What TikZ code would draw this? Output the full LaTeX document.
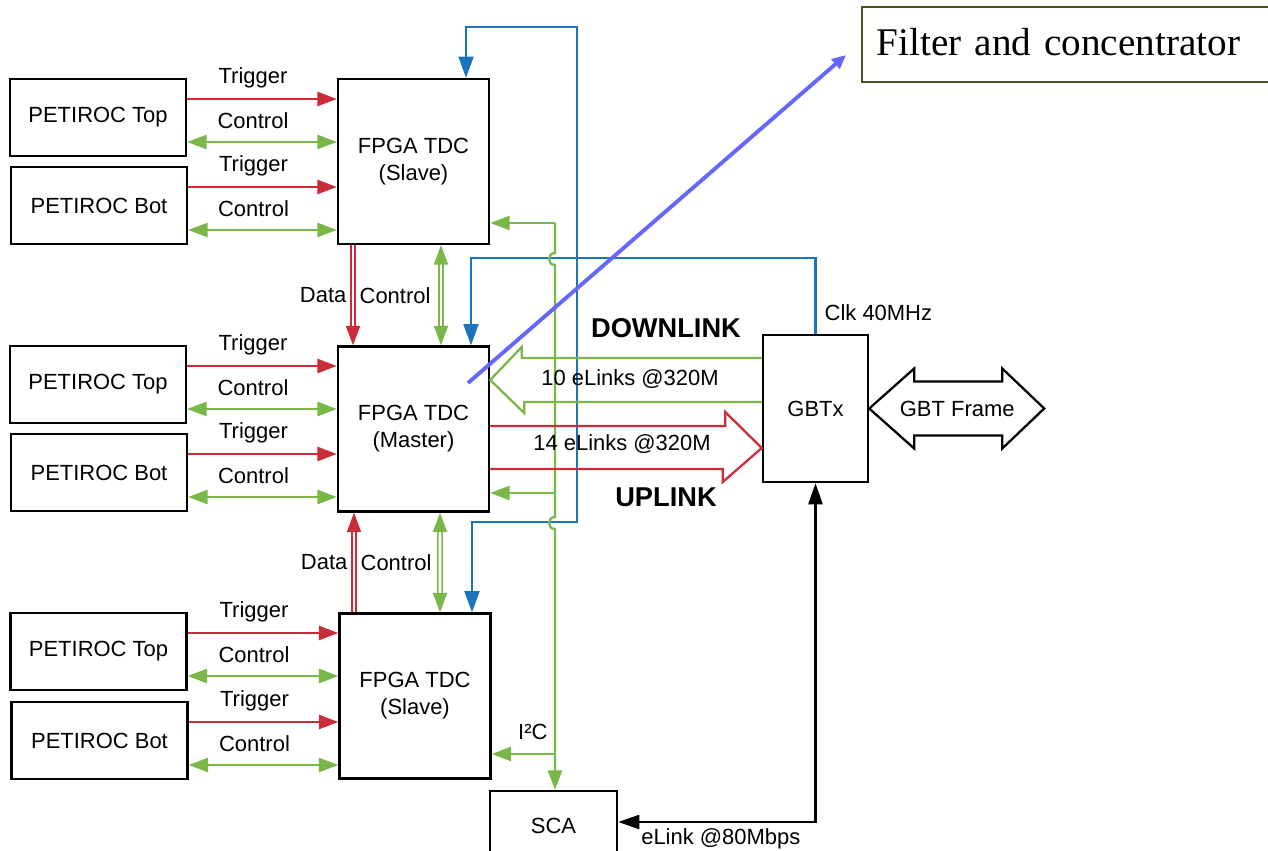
\documentclass[tikz,border=0pt]{standalone}
\usepackage{fontspec}
\setmainfont{Liberation Sans}
\newfontfamily\filterfont{Liberation Serif}
\usetikzlibrary{arrows.meta,calc}

\definecolor{trigred}{HTML}{C92D39}
\definecolor{ctrlgreen}{HTML}{7AB648}
\definecolor{clkblue}{HTML}{1C75BC}
\definecolor{notepurple}{HTML}{6666FF}
\definecolor{noteolive}{HTML}{4A5320}

\tikzset{
  petiroc/.style={minimum width=3.52cm, minimum height=1.54cm},
  fpga/.style={minimum width=3.02cm, minimum height=3.3cm},
  trig/.style={draw=trigred, line width=1.3pt},
  ctrl/.style={draw=ctrlgreen, line width=1.3pt},
  data/.style={draw=trigred, double=white, double distance=1.5pt, line width=0.9pt},
  ctrlbus/.style={draw=ctrlgreen, double=white, double distance=1.5pt, line width=0.9pt},
  clk/.style={draw=clkblue, line width=1.2pt, >={Triangle[length=12pt,width=8.5pt]}},
  elink/.style={draw=black, line width=1.3pt, >={Triangle[length=12pt,width=8pt]}},
  wide/.style={draw=black, line width=1.3pt, line join=miter},
  note/.style={draw=notepurple, line width=2.2pt, >={Triangle[length=8pt,width=7pt]}},
  linkname/.style={font=\bfseries\fontsize{15.5}{18}\selectfont},
  wirename/.style={midway, xshift=-0.18cm, yshift=0.42cm}
}

\begin{document}
\begin{tikzpicture}[x=0.02cm, y=-0.02cm, font=\fontsize{12.5}{15.3}\selectfont,
    >={Triangle[length=11pt,width=8pt]}]
  \useasboundingbox (0,0) rectangle (1268,851);

  \begin{scope}[every node/.style={draw, line width=1.4pt, align=center, inner sep=0pt}]
    \node [petiroc] (ta) at (98,117.5) {PETIROC Top};
    \node [petiroc] (ba) at (99,205.5) {PETIROC Bot};
    \node [petiroc] (tb) at (98,384.5) {PETIROC Top};
    \node [petiroc] (bb) at (99,472.5) {PETIROC Bot};
    \node [petiroc] (tc) at (98.5,651.5) {PETIROC Top};
    \node [petiroc] (bc) at (99.5,740.5) {PETIROC Bot};
    \node [fpga] (fs) at (413.5,161.5) {FPGA TDC\\(Slave)};
    \node [fpga] (fm) at (413.5,429) {FPGA TDC\\(Master)};
    \node [fpga] (fl) at (415,696) {FPGA TDC\\(Slave)};
    \node [minimum width=2.1cm, minimum height=2.94cm] (gbtx) at (815.5,408.5) {GBTx};
    \node [minimum width=2.54cm, minimum height=1.4cm] (sca) at (553.5,826) {SCA};
  \end{scope}

  \node [draw=noteolive, line width=0.9pt, anchor=west, minimum height=1.5cm,
    text width=7.98cm, inner xsep=0.3cm, align=left,
    font=\filterfont\fontsize{22.3}{26}\selectfont] (flt) at (861,44.5) {\raisebox{3pt}{Filter and concentrator}};

  % trigger and control to the FPGAs
  \foreach \p/\f in {ta/fs, ba/fs, tb/fm, bb/fm, tc/fl, bc/fl} {
    \coordinate (\p-t) at ($(\p.east)+(0,-18.5)$);
    \coordinate (\p-c) at ($(\p.east)+(0,24.5)$);
    \path (\p-t) edge [trig,->] node [wirename] {Trigger} (\p-t -| \f.west);
    \path (\p-c) edge [ctrl,<->] node [wirename] {Control} (\p-c -| \f.west);
  }

  % data and control between the FPGAs
  \draw [data,->] ($(fs.south)+(-60.5,0)$) -- ($(fm.north)+(-60.5,0)$)
    node [midway,left] (d1) {Data} node [midway,right] (c1) {Control};
  \draw [ctrlbus,<->] ($(fs.south)+(27.5,0)$) -- ($(fm.north)+(27.5,0)$);
  \draw [data,->] ($(fl.north)+(-61,0)$) -- ($(fm.south)+(-59.5,0)$)
    node [midway,left] (d2) {Data} node [midway,right] (c2) {Control};
  \draw [ctrlbus,<->] ($(fl.north)+(25,0)$) -- ($(fm.south)+(26.5,0)$);

  % clock
  \coordinate (clkbus) at (577,27);
  \draw [clk,<->] ($(fs.north)+(52.5,0)$) |- (clkbus) |- ($(fl.north)+(57,-90)$) -- ($(fl.north)+(57,0)$);
  \draw [clk,->] (gbtx.north) |- ($(fm.north)+(57.5,-87)$) -- ($(fm.north)+(57.5,0)$);
  \node [anchor=west] (clklbl) at ($(gbtx.north)+(3,-21)$) {Clk 40MHz};

  % I2C bus from the SCA
  \coordinate (bus) at (555,223);
  \draw [ctrl,->] (bus) -- ++(0,30) .. controls +(-8,0) and +(-8,0) .. ++(0,12)
    -- ++(0,252) .. controls +(-8,0) and +(-8,0) .. ++(0,12) -- (bus |- sca.north);
  \draw [ctrl,<-] (fs.east |- bus) -- (bus);
  \draw [ctrl,<-] ($(fm.east)+(0,64)$) coordinate (mb) -- (mb -| bus);
  \draw [ctrl,<-] ($(fl.east)+(0,58)$) coordinate (lb) -- (lb -| bus)
    node [pos=0.65,yshift=0.44cm] (i2c) {I²C};

  % downlink and uplink
  \draw [ctrl, line join=miter] ($(gbtx.west)+(0,-50.5)$) -- ++(-240,0) -- ++(0,-11)
    -- ($(fm.east)+(0,-49)$) -- ++(34,33) -- ++(0,-11) -- ($(gbtx.west)+(0,-6.5)$);
  \draw [trig, line join=miter] ($(fm.east)+(0,-3)$) -- ++(235,0) -- ++(0,-14)
    -- ($(gbtx.west)+(0,39.5)$) -- ++(-39,34) -- ++(0,-13) -- ($(fm.east)+(0,40)$);
  \node (dnl) at (630,379) {10 eLinks @320M};
  \node (upl) at (622,444) {14 eLinks @320M};
  \node [linkname] (dlk) at (666,328) {DOWNLINK};
  \node [linkname] (ulk) at (666,497) {UPLINK};

  % GBT frame
  \draw [wide] (gbtx.east) -- ++(45,-40) -- ++(0,13) -- ++(88,0) -- ++(0,-13) -- ++(42,40)
    -- ++(-42,40) -- ++(0,-13) -- ++(-88,0) -- ++(0,13) -- cycle;
  \node (frm) at ($(gbtx.east)+(88,0)$) {GBT Frame};

  % eLink to the SCA
  \draw [elink,<->] ($(sca.east)+(0,-4)$) -| (gbtx.south)
    node [pos=0.26,below] (elk) {eLink @80Mbps};

  \draw [note,->] ($(fm.center)+(54.5,-46)$) -- ($(flt.west)+(-15,10.5)$);
\end{tikzpicture}
\end{document}
